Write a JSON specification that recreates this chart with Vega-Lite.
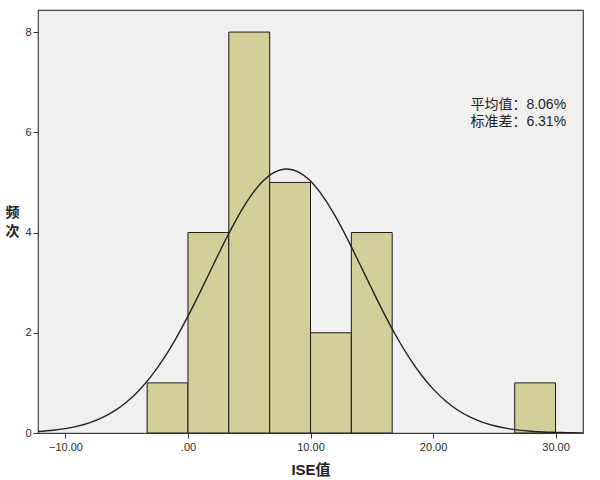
{
  "$schema": "https://vega.github.io/schema/vega-lite/v6.json",
  "description": "Histogram of ISE values with normal curve (mean 8.06, sd 6.31).",
  "autosize": {"type": "none"},
  "width": 545,
  "height": 423,
  "padding": {"left": 38, "top": 10, "right": 17, "bottom": 47},
  "background": "#ffffff",
  "datasets": {
    "bins": [
      {"bin_start": -3.333, "bin_end": 0, "count": 1},
      {"bin_start": 0, "bin_end": 3.333, "count": 4},
      {"bin_start": 3.333, "bin_end": 6.667, "count": 8},
      {"bin_start": 6.667, "bin_end": 10, "count": 5},
      {"bin_start": 10, "bin_end": 13.333, "count": 2},
      {"bin_start": 13.333, "bin_end": 16.667, "count": 4},
      {"bin_start": 26.667, "bin_end": 30, "count": 1}
    ],
    "curve": [
      {"x": -12.24, "y": 0.030}, {"x": -11, "y": 0.055}, {"x": -10, "y": 0.088},
      {"x": -9, "y": 0.136}, {"x": -8, "y": 0.207}, {"x": -7, "y": 0.305},
      {"x": -6, "y": 0.440}, {"x": -5, "y": 0.619}, {"x": -4, "y": 0.849},
      {"x": -3, "y": 1.134}, {"x": -2, "y": 1.478}, {"x": -1, "y": 1.879},
      {"x": 0, "y": 2.331}, {"x": 1, "y": 2.817}, {"x": 2, "y": 3.322},
      {"x": 3, "y": 3.821}, {"x": 4, "y": 4.284}, {"x": 5, "y": 4.685},
      {"x": 6, "y": 4.996}, {"x": 7, "y": 5.195}, {"x": 8.06, "y": 5.269},
      {"x": 9, "y": 5.211}, {"x": 10, "y": 5.026}, {"x": 11, "y": 4.727},
      {"x": 12, "y": 4.336}, {"x": 13, "y": 3.878}, {"x": 14, "y": 3.383},
      {"x": 15, "y": 2.878}, {"x": 16, "y": 2.387}, {"x": 17, "y": 1.931},
      {"x": 18, "y": 1.524}, {"x": 19, "y": 1.172}, {"x": 20, "y": 0.880},
      {"x": 21, "y": 0.643}, {"x": 22, "y": 0.459}, {"x": 23, "y": 0.320},
      {"x": 24, "y": 0.217}, {"x": 25, "y": 0.144}, {"x": 26, "y": 0.093},
      {"x": 27, "y": 0.058}, {"x": 28, "y": 0.036}, {"x": 29, "y": 0.021},
      {"x": 30, "y": 0.013}, {"x": 31, "y": 0.007}, {"x": 32.24, "y": 0.003}
    ],
    "stats": [
      {"label": "平均值：8.06%", "x": 30.86, "y": 6.55},
      {"label": "标准差：6.31%", "x": 30.86, "y": 6.21}
    ]
  },
  "layer": [
    {
      "data": {"name": "bins"},
      "mark": {"type": "bar", "fill": "#D3CF98", "stroke": "#1a1a1a", "strokeWidth": 1},
      "encoding": {
        "x": {
          "field": "bin_start",
          "type": "quantitative",
          "scale": {"domain": [-12.24, 32.24], "nice": false, "zero": false},
          "title": "ISE值",
          "axis": {
            "values": [-10, 0, 10, 20, 30],
            "labelExpr": "datum.value == 0 ? '.00' : format(datum.value, '.2f')",
            "grid": false,
            "domain": false,
            "tickSize": 5,
            "tickColor": "#333333",
            "labelFont": "Liberation Sans",
            "labelFontSize": 11,
            "labelColor": "#2a2a2a",
            "labelPadding": 3,
            "titleFont": "Liberation Sans, Noto Sans CJK SC",
            "titleFontSize": 15,
            "titleFontWeight": "bold",
            "titleColor": "#222222",
            "titlePadding": 10
          }
        },
        "x2": {"field": "bin_end"},
        "y": {
          "field": "count",
          "type": "quantitative",
          "scale": {"domain": [0, 8.44], "nice": false},
          "title": ["频", "次"],
          "axis": {
            "values": [0, 2, 4, 6, 8],
            "grid": false,
            "domain": false,
            "tickSize": 5,
            "tickColor": "#333333",
            "labelFont": "Liberation Sans",
            "labelFontSize": 11,
            "labelColor": "#2a2a2a",
            "labelPadding": 2,
            "titleAngle": 0,
            "titleX": -26,
            "titleY": 202,
            "titleAlign": "center",
            "titleBaseline": "middle",
            "titleLineHeight": 19,
            "titleFont": "Noto Sans CJK SC",
            "titleFontSize": 14,
            "titleFontWeight": "bold",
            "titleColor": "#222222"
          }
        },
        "y2": {"datum": 0}
      }
    },
    {
      "data": {"name": "curve"},
      "mark": {"type": "line", "color": "#222222", "strokeWidth": 1.4, "interpolate": "monotone", "clip": true},
      "encoding": {
        "x": {"field": "x", "type": "quantitative"},
        "y": {"field": "y", "type": "quantitative"}
      }
    },
    {
      "data": {"name": "stats"},
      "mark": {"type": "text", "align": "right", "baseline": "middle", "font": "Liberation Sans, Noto Sans CJK SC", "fontSize": 14, "color": "#222222"},
      "encoding": {
        "x": {"field": "x", "type": "quantitative"},
        "y": {"field": "y", "type": "quantitative"},
        "text": {"field": "label"}
      }
    }
  ],
  "config": {
    "view": {"fill": "#F0F0F0", "stroke": "#444444", "strokeWidth": 1.2}
  }
}
